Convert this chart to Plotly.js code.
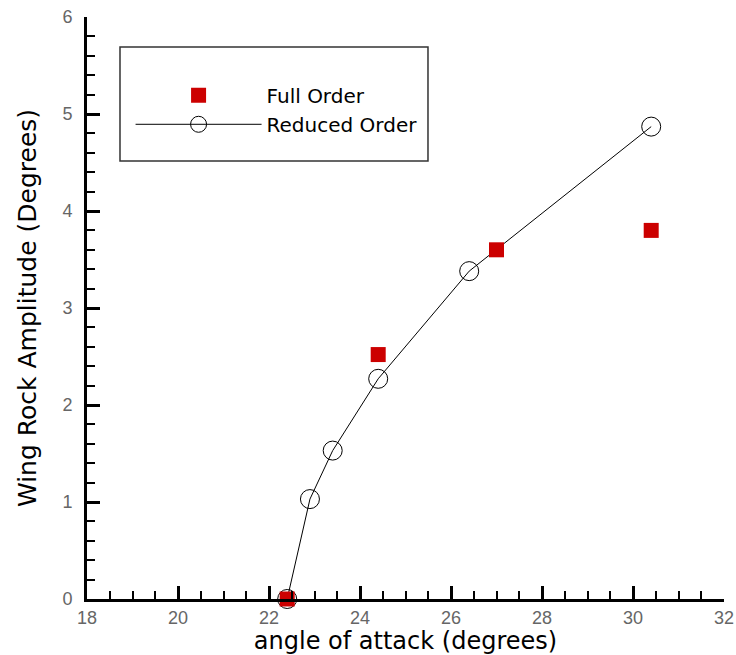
<!DOCTYPE html>
<html>
<head>
<meta charset="utf-8">
<script src="https://cdn.plot.ly/plotly-3.0.1.min.js"></script>
<style>html,body{margin:0;padding:0;background:#fff;}#chart{width:736px;height:655px;}</style>
</head>
<body>
<div id="chart"></div>
<script>
// Data
var reducedAlpha = [22.4, 22.9, 23.4, 24.4, 26.4, 30.4];
var reducedAmp   = [0.0, 1.03, 1.53, 2.27, 3.38, 4.87];
var fullAlpha    = [22.4, 24.4, 27.0, 30.4];
var fullAmp      = [0.0, 2.52, 3.60, 3.80];
var xTicks = [18, 20, 22, 24, 26, 28, 30, 32];
var yTicks = [0, 1, 2, 3, 4, 5, 6];
var seriesNames = ['Reduced Order', 'Full Order'];

var traces = [
  {
    x: reducedAlpha, y: reducedAmp, name: seriesNames[0],
    type: 'scatter', mode: 'lines+markers', cliponaxis: false,
    line: {color: '#000', width: 1},
    marker: {symbol: 'circle-open', size: 19, color: '#000', line: {width: 1, color: '#000'}}
  },
  {
    x: fullAlpha, y: fullAmp, name: seriesNames[1],
    type: 'scatter', mode: 'markers', cliponaxis: false,
    marker: {symbol: 'square', size: 15, color: '#cc0000', line: {width: 0}}
  }
];

var tickFont = {family: 'Liberation Sans, Arial, sans-serif', size: 18, color: '#666'};
var titleFont = {family: 'DejaVu Sans, sans-serif', size: 24, color: '#000'};

var layout = {
  width: 736, height: 655,
  margin: {l: 87, r: 12, t: 17, b: 56},
  paper_bgcolor: '#fff', plot_bgcolor: '#fff',
  showlegend: true,
  legend: {
    x: 0.0684, y: 0.899, xanchor: 'left', yanchor: 'top',
    traceorder: 'reversed', itemwidth: 126,
    bgcolor: 'rgba(0,0,0,0)', borderwidth: 0,
    font: {family: 'DejaVu Sans, sans-serif', size: 20, color: '#000'}
  },
  shapes: [{
    type: 'rect', xref: 'paper', yref: 'paper',
    x0: 0.0518, x1: 0.5353, y0: 0.7526, y1: 0.9485,
    line: {color: '#333', width: 1.5}, fillcolor: 'rgba(0,0,0,0)'
  }],
  xaxis: {
    range: [18, 32], tickvals: xTicks, ticktext: xTicks.map(String),
    showgrid: false, zeroline: false, showline: true, linecolor: '#000', linewidth: 3,
    ticks: 'inside', ticklen: 13, tickwidth: 3, tickcolor: '#000',
    minor: {dtick: 0.5, ticks: 'inside', ticklen: 8, tickwidth: 2, tickcolor: '#000', showgrid: false},
    tickfont: tickFont, ticklabelstandoff: 0,
    title: {text: 'angle of attack (degrees)', font: titleFont, standoff: 4}
  },
  yaxis: {
    range: [0, 6], tickvals: yTicks, ticktext: yTicks.map(String),
    showgrid: false, zeroline: false, showline: true, linecolor: '#000', linewidth: 3,
    ticks: 'inside', ticklen: 13, tickwidth: 3, tickcolor: '#000',
    minor: {dtick: 0.2, ticks: 'inside', ticklen: 8, tickwidth: 2, tickcolor: '#000', showgrid: false},
    tickfont: tickFont, ticklabelstandoff: 8,
    title: {text: 'Wing Rock Amplitude (Degrees)', font: {family: 'DejaVu Sans, sans-serif', size: 25, color: '#000'}, standoff: 19}
  }
};

Plotly.newPlot('chart', traces, layout, {displayModeBar: false, staticPlot: true});
</script>
</body>
</html>
